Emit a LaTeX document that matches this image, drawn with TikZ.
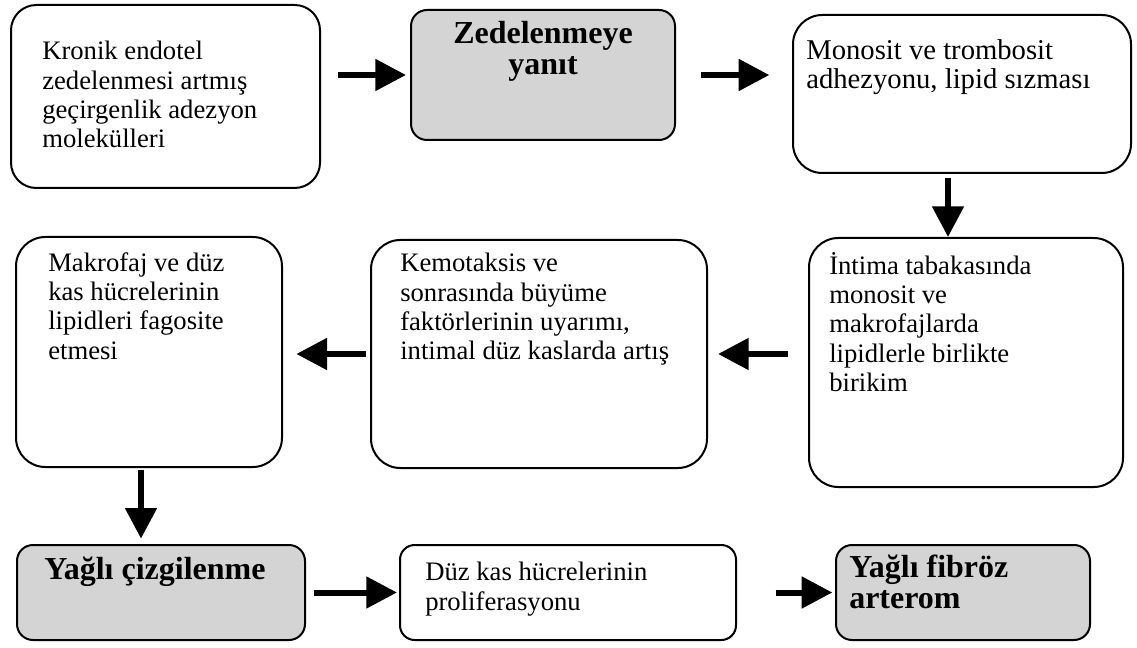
\documentclass[tikz,border=0pt]{standalone}
\usepackage{fontspec}
\setmainfont{Liberation Serif}
\usepackage{tikz}
\usetikzlibrary{arrows.meta,positioning,calc,fit}

\begin{document}
\begin{tikzpicture}[x=0.75pt, y=-0.75pt,
  box/.style={draw, line width=1.5pt, rounded corners=22pt, inner sep=0pt},
  graybox/.style={box, fill=black!17, rounded corners=12pt},
  txt/.style={inner sep=0pt, anchor=north west, align=left, font=\fontsize{20}{22}\selectfont},
  hdr/.style={inner sep=0pt, align=left, font=\fontsize{24}{23}\selectfont\bfseries},
  arr/.style={-{Triangle[length=23pt, width=23pt]}, line width=4.5pt}]

\useasboundingbox (0,0) rectangle (1137,648);

% Top row
\node[box, rounded corners=19pt, fit={(11,5) (320,188)}] (kronik) {};
\node[txt] (kronikT) at (42,41) {Kronik endotel\\zedelenmesi artmış\\geçirgenlik adezyon\\molekülleri};
\node[graybox, fit={(411,10) (675,140)}] (zedel) {};
\node[hdr, align=center, anchor=north] (zedelT) at ($(zedel.north)+(0,12)$) {Zedelenmeye\\yanıt};
\node[box, fit={(793,15) (1131,173)}] (monosit) {};
\node[txt, font=\fontsize{21.5}{22}\selectfont] (monositT) at (806,39) {Monosit ve trombosit\\adhezyonu, lipid sızması};

% Middle row
\node[box, fit={(809,238) (1123,487)}] (intima) {};
\node[txt] (intimaT) at (829,252) {İntima tabakasında\\monosit ve\\makrofajlarda\\lipidlerle birlikte\\birikim};
\node[box, fit={(371,240) (707,468)}] (kemo) {};
\node[txt] (kemoT) at (400,253) {Kemotaksis ve\\sonrasında büyüme\\faktörlerinin uyarımı,\\intimal düz kaslarda artış};
\node[box, fit={(16,237) (282,467)}] (makro) {};
\node[txt] (makroT) at (48,252) {Makrofaj ve düz\\kas hücrelerinin\\lipidleri fagosite\\etmesi};

% Bottom row
\node[graybox, fit={(17,545) (305,640)}] (cizgi) {};
\node[hdr, anchor=north west] (cizgiT) at (44,557) {Yağlı çizgilenme};
\node[box, rounded corners=11pt, fit={(400,545) (736,640)}] (duz) {};
\node[txt] (duzT) at (425,562) {Düz kas hücrelerinin\\proliferasyonu};
\node[graybox, fit={(836,545) (1090,640)}] (fibroz) {};
\node[hdr, anchor=north west] (fibrozT) at (849,555) {Yağlı fibröz\\arterom};

% Arrows
\coordinate (monoS) at ($(monosit.south)+(-14,0)$);
\coordinate (makroS) at ($(makro.south)+(-8,0)$);
\draw[arr, shorten <=12.75pt, shorten >=3pt] (kronik.east |- zedel.west) -- (zedel.west);
\draw[arr, shorten <=18.75pt, shorten >=17pt] (zedel.east) -- (monosit.west |- zedel.east);
\draw[arr, shorten <=3pt] (monoS) -- (monoS |- intima.north);
\draw[arr, shorten <=15pt, shorten >=7.5pt] (intima.west |- kemo.east) -- (kemo.east);
\draw[arr, shorten <=3pt, shorten >=10pt] (kemo.west) -- (makro.east |- kemo.west);
\draw[arr, shorten <=1.5pt, shorten >=4pt] (makroS) -- (makroS |- cizgi.north);
\draw[arr, shorten <=6pt, shorten >=1.5pt] (cizgi.east) -- (duz.west |- cizgi.east);
\draw[arr, shorten <=29pt, shorten >=2pt] (duz.east) -- (fibroz.west |- duz.east);

\end{tikzpicture}
\end{document}
